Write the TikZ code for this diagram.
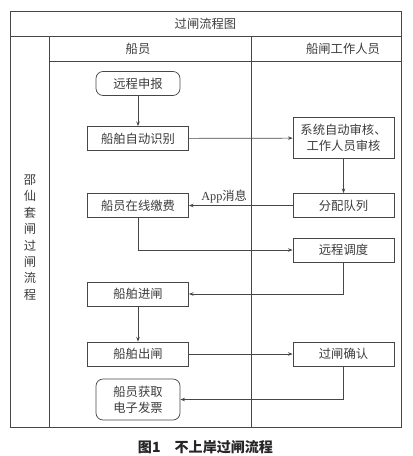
\documentclass[tikz,border=0pt]{standalone}
\usepackage{fontspec}
\usepackage{xcolor}
\usepackage{tikz}
\usetikzlibrary{arrows.meta,positioning}
\setmainfont{Liberation Serif}
\newfontfamily\cjk{Noto Sans CJK SC}
\definecolor{framegray}{RGB}{70,70,70}
\definecolor{textgray}{RGB}{60,60,60}

\begin{document}
\begin{tikzpicture}[x=0.03cm, y=-0.03cm,
    lane/.style={draw=framegray, line width=0.6pt},
    stepbox/.style={rectangle, draw=framegray, line width=0.6pt, text=textgray,
                    minimum width=3.03cm, minimum height=0.72cm, inner sep=1pt,
                    align=center, font=\cjk\fontsize{10.5}{13.5}\selectfont},
    endbox/.style={stepbox, rounded corners=6pt, minimum width=2.52cm},
    flow/.style={draw=framegray, line width=0.6pt, -{Stealth[length=4pt,width=3pt]}},
    head/.style={text=textgray, font=\cjk\fontsize{10.5}{14}\selectfont, align=center}
]
\useasboundingbox (0,0) rectangle (412,456);

% Frame and lanes
\draw[lane] (10,11) rectangle (401,427);
\draw[lane] (10,36) -- (401,36);
\draw[lane] (49,36) -- (49,427);
\draw[lane] (49,61) -- (401,61);
\draw[lane] (251,36) -- (251,427);

\node[head] (title) at (205.5,24) {过闸流程图};
\node[head] (crew) at (138,49) {船员};
\node[head] (staff) at (343,49) {船闸工作人员};
\node[head] (side) at (30,237.5) {邵\\仙\\套\\闸\\过\\闸\\流\\程};

% Steps
\node[endbox] (apply) at (138,83.5) {远程申报};
\node[stepbox] (ident) at (138,138.5) {船舶自动识别};
\node[stepbox, minimum height=1.23cm] (audit) at (343.5,138) {系统自动审核、\\工作人员审核};
\node[stepbox] (pay) at (138,205.5) {船员在线缴费};
\node[stepbox] (queue) at (343.5,205.5) {分配队列};
\node[stepbox] (sched) at (343.5,250) {远程调度};
\node[stepbox] (enter) at (138,294) {船舶进闸};
\node[stepbox] (leave) at (138,354) {船舶出闸};
\node[stepbox] (confirm) at (343.5,354) {过闸确认};
\node[endbox, minimum height=1.23cm] (invoice) at (138,399.5) {船员获取\\电子发票};

% Connectors
\draw[flow] (apply) -- (ident);
\draw[flow] (ident) -- (audit);
\draw[flow] (audit) -- (queue);
\draw[flow] (queue) -- node[pos=0.66, above, inner sep=1.5pt, text=textgray,
    font=\fontsize{10.5}{12}\selectfont] {App{\cjk 消息}} (pay);
\draw[flow] (pay.south) |- (sched.west);
\draw[flow] (sched.south) |- (enter.east);
\draw[flow] (enter) -- (leave);
\draw[flow] (leave) -- (confirm);
\draw[flow] (confirm.south) |- (invoice.east);

% Caption
\node[text=black!85, font=\cjk\bfseries\fontsize{12}{14}\selectfont] (caption) at (205.5,447) {图1\quad 不上岸过闸流程};
\end{tikzpicture}
\end{document}
